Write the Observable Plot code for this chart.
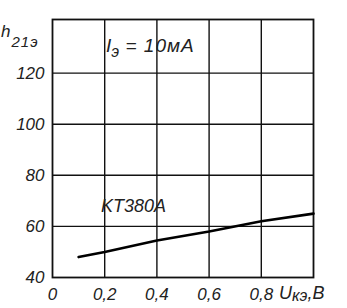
<!DOCTYPE html>
<html><head><meta charset="utf-8">
<script src="https://cdn.jsdelivr.net/npm/d3@7"></script>
<script src="https://cdn.jsdelivr.net/npm/@observablehq/plot@0.6"></script>
<style>body{margin:0;background:#fff}</style>
</head><body><div id="c"></div>
<script>
const uValues = [0.1, 0.2, 0.4, 0.6, 0.8, 1.0];
const hValues = [48, 50, 54.5, 58, 62, 65];
const xTicks = [0, 0.2, 0.4, 0.6, 0.8];
const xTickLabels = ["0", "0,2", "0,4", "0,6", "0,8"];
const yTicks = [40, 60, 80, 100, 120];
const yTickLabels = ["40", "60", "80", "100", "120"];
const seriesName = "KT380A";

const font = "Liberation Sans, Arial, sans-serif";
const data = uValues.map((u, i) => ({u, h: hValues[i]}));
const xt = xTicks.map((v, i) => ({v, t: xTickLabels[i]}));
const yt = yTicks.map((v, i) => ({v, t: yTickLabels[i]}));

const plot = Plot.plot({
  width: 347, height: 308,
  marginLeft: 52, marginRight: 34, marginTop: 19, marginBottom: 31,
  x: {domain: [0, 1.0], axis: null},
  y: {domain: [40, 141], axis: null},
  style: {fontFamily: font, background: "#fff"},
  marks: [
    Plot.ruleY(yTicks.slice(1), {stroke: "#111", strokeWidth: 1.4}),
    Plot.ruleX(xTicks.slice(1), {stroke: "#111", strokeWidth: 1.4}),
    Plot.frame({stroke: "#111", strokeWidth: 1.8}),
    Plot.line(data, {x: "u", y: "h", stroke: "#000", strokeWidth: 2.6}),
    Plot.text(yt, {x: 0, y: "v", text: "t", textAnchor: "end", dx: -8, fontSize: 17, fontStyle: "italic", fill: "#222"}),
    Plot.text(xt, {x: "v", y: 40, text: "t", dy: 17, fontSize: 17, fontStyle: "italic", fill: "#222"}),
    Plot.text([seriesName], {x: 0.31, y: 68, text: d => d, fontSize: 18, fontStyle: "italic", fill: "#222", letterSpacing: 0.5})
  ]
});
document.getElementById("c").appendChild(plot);

const svg = d3.select(plot);
const g = svg.append("g").attr("font-family", font).attr("font-style", "italic")
  .attr("fill", "#222").attr("text-anchor", "start");
// y axis label h21э
const t1 = g.append("text").attr("x", 1).attr("y", 37).attr("font-size", 17);
t1.append("tspan").text("h");
t1.append("tspan").attr("dy", 10).attr("font-size", 15).attr("dx", 1).attr("letter-spacing", 1).text("21э");
// annotation Iэ = 10мА
const t2 = g.append("text").attr("x", 106).attr("y", 52).attr("font-size", 19);
t2.append("tspan").text("I");
t2.append("tspan").attr("dy", 5).attr("font-size", 16).text("э");
t2.append("tspan").attr("dy", -5).attr("letter-spacing", 1).text(" = 10мА");
// x axis label Uкэ,В
const t3 = g.append("text").attr("x", 279).attr("y", 299).attr("font-size", 18);
t3.append("tspan").text("U");
t3.append("tspan").attr("dy", 2).attr("font-size", 16).text("кэ");
t3.append("tspan").attr("dy", -2).text(",В");
</script>
</body></html>
